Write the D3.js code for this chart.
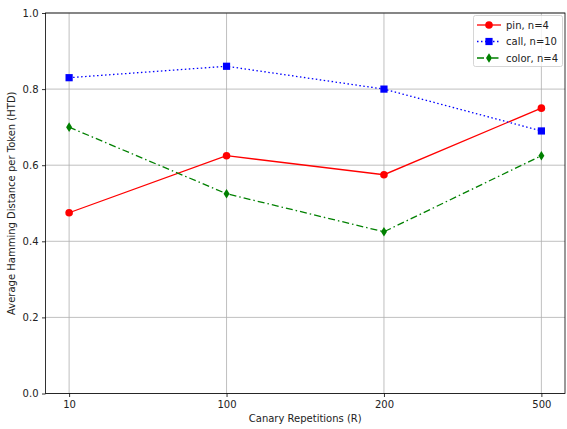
<!DOCTYPE html>
<html>
<head>
<meta charset="utf-8">
<script src="https://d3js.org/d3.v7.min.js"></script>
<style>
  body { margin: 0; background: #fff; }
  text { font-family: "DejaVu Sans", sans-serif; fill: #222; }
</style>
</head>
<body>
<div id="chart"></div>
<script>
var WIDTH = 567
var HEIGHT = 429

var repetitions = ['10', '100', '200', '500'];
var pinValues = [0.475, 0.625, 0.575, 0.75];
var callValues = [0.83, 0.86, 0.80, 0.69];
var colorValues = [0.70, 0.525, 0.425, 0.625];
var yTicks = [0.0, 0.2, 0.4, 0.6, 0.8, 1.0];

var seriesList = [
    { name: 'pin, n=4', values: pinValues, color: '#ff0000', dash: null, marker: 'circle' },
    { name: 'call, n=10', values: callValues, color: '#0000ff', dash: '1.5,2.5', marker: 'square' },
    { name: 'color, n=4', values: colorValues, color: '#008000', dash: '7,3,1.5,3', marker: 'diamond' }
];

var plotLeft = 45.5, plotRight = 565, plotTop = 13, plotBottom = 393.5;

const svg = d3.select('#chart').append('svg')
    .attr('width', WIDTH)
    .attr('height', HEIGHT);

let xScale = d3.scalePoint()
    .domain(repetitions)
    .range([plotLeft, plotRight])
    .padding(0.15);
let yScale = d3.scaleLinear()
    .domain([0, 1])
    .range([plotBottom, plotTop]);

// grid
svg.append('g').selectAll('line.vgrid')
    .data(repetitions)
    .enter()
    .append('line')
    .attr('x1', d => xScale(d)).attr('x2', d => xScale(d))
    .attr('y1', plotTop).attr('y2', plotBottom)
    .attr('stroke', '#b0b0b0').attr('stroke-width', 0.8);
svg.append('g').selectAll('line.hgrid')
    .data(yTicks)
    .enter()
    .append('line')
    .attr('x1', plotLeft).attr('x2', plotRight)
    .attr('y1', d => yScale(d)).attr('y2', d => yScale(d))
    .attr('stroke', '#b0b0b0').attr('stroke-width', 0.8);

// axes
var xAxis = svg.append('g')
    .attr('transform', 'translate(0,' + plotBottom + ')')
    .call(d3.axisBottom(xScale).tickSize(3.5).tickPadding(3.5));
var yAxis = svg.append('g')
    .attr('transform', 'translate(' + plotLeft + ',0)')
    .call(d3.axisLeft(yScale).tickValues(yTicks).tickFormat(d3.format('.1f')).tickSize(3.5).tickPadding(3.5));
[xAxis, yAxis].forEach(a => {
    a.select('.domain').remove();
    a.selectAll('line').attr('stroke', '#000').attr('stroke-width', 0.8);
    a.selectAll('text').style('font-size', '10px').style('font-family', '"DejaVu Sans", sans-serif').attr('fill', '#222');
});

// frame
svg.append('rect')
    .attr('x', plotLeft).attr('y', plotTop)
    .attr('width', plotRight - plotLeft).attr('height', plotBottom - plotTop)
    .attr('fill', 'none').attr('stroke', '#000').attr('stroke-width', 0.8);

// axis labels
svg.append('text')
    .attr('x', (plotLeft + plotRight) / 2).attr('y', 422)
    .attr('text-anchor', 'middle')
    .style('font-size', '10px')
    .text('Canary Repetitions (R)');
svg.append('text')
    .attr('transform', 'translate(15,' + (plotTop + plotBottom) / 2 + ') rotate(-90)')
    .attr('text-anchor', 'middle')
    .style('font-size', '10px')
    .text('Average Hamming Distance per Token (HTD)');

function drawMarker(g, type, x, y, color) {
    if (type == 'circle') {
        g.append('circle').attr('cx', x).attr('cy', y).attr('r', 3.8).attr('fill', color);
    } else if (type == 'square') {
        g.append('rect').attr('x', x - 3.6).attr('y', y - 3.6).attr('width', 7.2).attr('height', 7.2).attr('fill', color);
    } else {
        g.append('path')
            .attr('d', 'M' + x + ',' + (y - 4.8) + 'L' + (x + 3) + ',' + y + 'L' + x + ',' + (y + 4.8) + 'L' + (x - 3) + ',' + y + 'Z')
            .attr('fill', color);
    }
}

var line = d3.line()
    .x((d, i) => xScale(repetitions[i]))
    .y(d => yScale(d));

seriesList.forEach(s => {
    var g = svg.append('g');
    g.append('path')
        .attr('d', line(s.values))
        .attr('fill', 'none')
        .attr('stroke', s.color)
        .attr('stroke-width', 1.3)
        .attr('stroke-dasharray', s.dash);
    s.values.forEach((v, i) => drawMarker(g, s.marker, xScale(repetitions[i]), yScale(v), s.color));
});

// legend
var legend = svg.append('g');
legend.append('rect')
    .attr('x', 473.5).attr('y', 15.5)
    .attr('width', 89).attr('height', 51)
    .attr('rx', 2)
    .attr('fill', 'rgba(255,255,255,0.8)')
    .attr('stroke', '#cccccc').attr('stroke-width', 0.8);
seriesList.forEach((s, i) => {
    var y = 25 + i * 16.5;
    legend.append('line')
        .attr('x1', 477).attr('x2', 501)
        .attr('y1', y).attr('y2', y)
        .attr('stroke', s.color).attr('stroke-width', 1.3)
        .attr('stroke-dasharray', s.dash);
    drawMarker(legend, s.marker, 489, y, s.color);
    legend.append('text')
        .attr('x', 506).attr('y', y + 3.5)
        .style('font-size', '10px')
        .text(s.name);
});
</script>
</body>
</html>
